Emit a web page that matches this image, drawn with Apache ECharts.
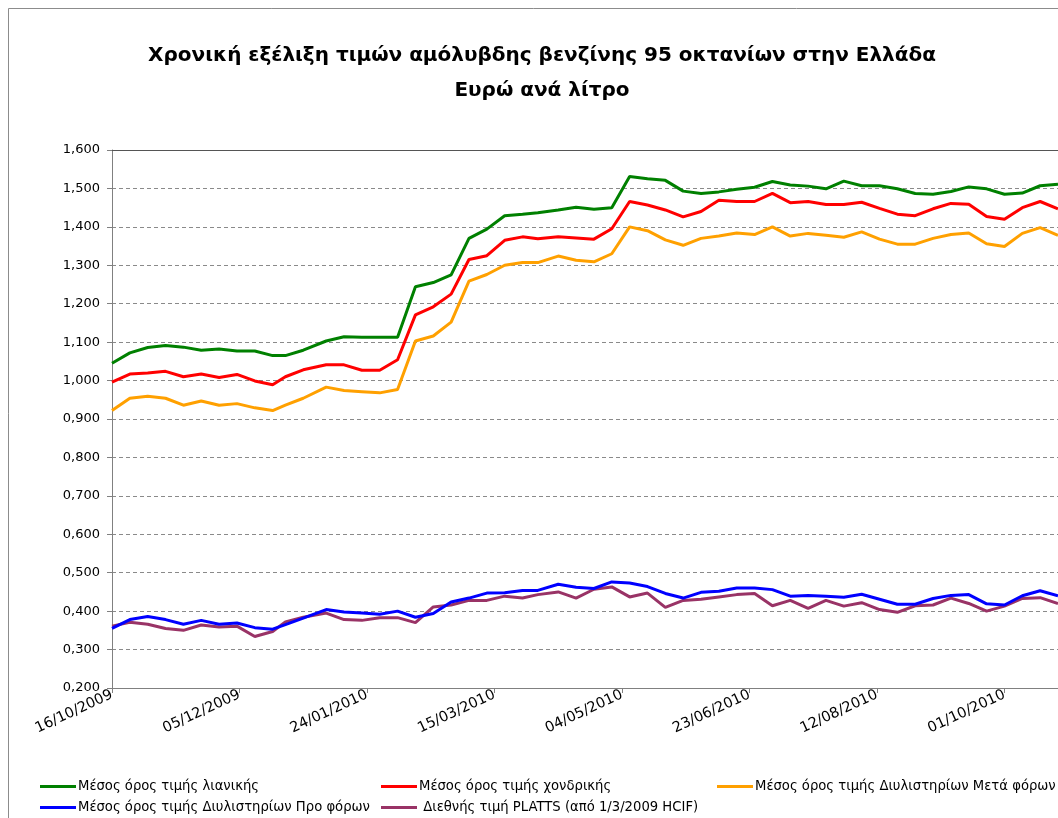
<!DOCTYPE html>
<html>
<head>
<meta charset="utf-8">
<script src="https://cdn.jsdelivr.net/npm/echarts@6/dist/echarts.min.js"></script>
<style>
html,body{margin:0;padding:0;background:#fff;}
#c{width:1058px;height:818px;}
</style>
</head>
<body>
<div id="c"></div>
<script>
const dates = [
'16/10/2009','23/10/2009','30/10/2009','06/11/2009','13/11/2009','20/11/2009','27/11/2009',
'04/12/2009','11/12/2009','18/12/2009','23/12/2009','30/12/2009','08/01/2010','15/01/2010',
'22/01/2010','29/01/2010','05/02/2010','12/02/2010','19/02/2010','26/02/2010','05/03/2010',
'12/03/2010','19/03/2010','26/03/2010','01/04/2010','09/04/2010','16/04/2010','23/04/2010',
'30/04/2010','07/05/2010','14/05/2010','21/05/2010','28/05/2010','04/06/2010','11/06/2010',
'18/06/2010','25/06/2010','02/07/2010','09/07/2010','16/07/2010','23/07/2010','30/07/2010',
'06/08/2010','13/08/2010','20/08/2010','27/08/2010','03/09/2010','10/09/2010','17/09/2010',
'24/09/2010','01/10/2010','08/10/2010','15/10/2010','22/10/2010'
];
const retail = [
1.045,1.072,1.086,1.091,1.087,1.079,1.082,1.077,1.077,1.065,1.065,1.079,1.103,1.114,
1.113,1.113,1.113,1.244,1.255,1.275,1.370,1.394,1.429,1.433,1.437,1.444,1.451,1.446,
1.450,1.531,1.525,1.521,1.493,1.487,1.491,1.498,1.503,1.518,1.509,1.506,1.499,1.519,
1.507,1.507,1.499,1.487,1.485,1.492,1.504,1.499,1.485,1.488,1.507,1.511
];
const wholesale = [
0.996,1.017,1.020,1.024,1.010,1.017,1.008,1.016,0.999,0.989,1.010,1.028,1.041,1.041,
1.027,1.027,1.054,1.171,1.192,1.225,1.315,1.325,1.365,1.374,1.369,1.374,1.371,1.368,
1.395,1.466,1.457,1.444,1.426,1.440,1.469,1.466,1.466,1.487,1.463,1.466,1.458,1.458,
1.464,1.448,1.433,1.429,1.447,1.461,1.459,1.427,1.420,1.450,1.466,1.447
];
const refineryAfterTax = [
0.922,0.954,0.959,0.954,0.936,0.947,0.936,0.940,0.929,0.922,0.936,0.954,0.983,0.974,
0.971,0.968,0.977,1.103,1.116,1.152,1.259,1.276,1.300,1.307,1.307,1.324,1.313,1.309,
1.330,1.400,1.390,1.366,1.352,1.370,1.376,1.384,1.380,1.400,1.376,1.383,1.378,1.373,
1.387,1.368,1.355,1.355,1.370,1.380,1.384,1.356,1.349,1.383,1.398,1.378
];
const refineryPreTax = [
0.355,0.378,0.386,0.378,0.366,0.376,0.366,0.369,0.357,0.353,0.365,0.382,0.404,0.398,
0.395,0.392,0.400,0.384,0.394,0.424,0.434,0.447,0.448,0.454,0.454,0.470,0.462,0.459,
0.476,0.473,0.464,0.446,0.434,0.449,0.452,0.460,0.460,0.456,0.439,0.441,0.439,0.436,
0.444,0.431,0.418,0.418,0.433,0.441,0.443,0.419,0.416,0.440,0.453,0.440
];
const platts = [
0.361,0.371,0.366,0.355,0.350,0.364,0.359,0.361,0.334,0.347,0.372,0.384,0.395,0.378,
0.376,0.383,0.383,0.370,0.411,0.416,0.428,0.428,0.439,0.434,0.443,0.450,0.434,0.457,
0.463,0.437,0.447,0.410,0.428,0.431,0.437,0.443,0.446,0.414,0.428,0.407,0.428,0.413,
0.422,0.404,0.397,0.414,0.416,0.434,0.420,0.400,0.413,0.433,0.435,0.420
];
const seriesNames = [
'Μέσος όρος τιμής λιανικής',
'Μέσος όρος τιμής χονδρικής',
'Μέσος όρος τιμής Διυλιστηρίων Μετά φόρων',
'Μέσος όρος τιμής Διυλιστηρίων Προ φόρων',
' Διεθνής τιμή PLATTS (από 1/3/2009 HCIF)'
];
const xTickLabels = ['16/10/2009','05/12/2009','24/01/2010','15/03/2010','04/05/2010','23/06/2010','12/08/2010','01/10/2010'];
const yTickLabels = ['0,200','0,300','0,400','0,500','0,600','0,700','0,800','0,900','1,000','1,100','1,200','1,300','1,400','1,500','1,600'];

function parseDay(s){
  const p = s.split('/');
  return Date.UTC(+p[2], +p[1]-1, +p[0]);
}
const t0 = parseDay(dates[0]);
const dayOf = s => Math.round((parseDay(s) - t0)/86400000);
const xs = dates.map(dayOf);
const pairs = arr => arr.map((v,i)=>[xs[i], v]);
const xMax = xs[xs.length-1];

const colors = ['#008000','#FF0000','#FFA000','#0000FF','#993366'];
const allValues = [retail, wholesale, refineryAfterTax, refineryPreTax, platts];

const chart = echarts.init(document.getElementById('c'), null, {renderer:'canvas'});
const legendPos = [
  {left:40, top:780},{left:381, top:780},{left:717, top:780},
  {left:40, top:801},{left:381, top:801}
];
const font = 'DejaVu Sans, Verdana, sans-serif';
chart.setOption({
  animation:false,
  backgroundColor:'#ffffff',
  graphic:[{type:'rect', shape:{x:8.5,y:8.5,width:1200,height:1000}, style:{fill:'none', stroke:'#8c8c8c', lineWidth:1}, silent:true}],
  title:{
    text:'Χρονική εξέλιξη τιμών αμόλυβδης βενζίνης 95 οκτανίων στην Ελλάδα\nΕυρώ ανά λίτρο',
    left:537, top:33, textAlign:'center',
    textStyle:{fontFamily:font, fontWeight:'bold', fontSize:20, lineHeight:35, color:'#000'}
  },
  legend: seriesNames.map((n,i)=>({
    data:[n], left:legendPos[i].left, top:legendPos[i].top, padding:0,
    icon:'rect', itemWidth:36, itemHeight:3, itemGap:0,
    textStyle:{fontFamily:font, fontSize:13.2, color:'#000', padding:[0,0,0,-3]},
    selectedMode:false
  })),
  grid:{left:112, top:150, width: xMax*2.564, height:538, containLabel:false},
  xAxis:[{
    type:'value', min:0, max:xMax, interval:50,
    axisLine:{show:true, lineStyle:{color:'#808080', width:1}},
    axisTick:{show:true, length:5, lineStyle:{color:'#808080'}},
    splitLine:{show:false},
    axisLabel:{
      rotate:25, margin:6, fontFamily:font, fontSize:14.5, color:'#000',
      showMaxLabel:false,
      formatter:function(v){
        const k = Math.round(v/50);
        if (Math.abs(v - k*50) < 0.01 && k < xTickLabels.length) return xTickLabels[k];
        return '';
      }
    }
  },{
    type:'value', position:'top', min:0, max:xMax,
    axisLine:{show:true, onZero:false, lineStyle:{color:'#555', width:1}},
    axisTick:{show:false}, axisLabel:{show:false}, splitLine:{show:false}
  }],
  yAxis:{
    type:'value', min:0.2, max:1.6, interval:0.1,
    axisLine:{show:true, lineStyle:{color:'#808080', width:1}},
    axisTick:{show:true, length:5, lineStyle:{color:'#808080'}},
    splitLine:{show:true, lineStyle:{color:'#8a8a8a', type:[4,3], width:1}},
    axisLabel:{
      margin:12, fontFamily:font, fontSize:13, color:'#000',
      formatter:function(v){
        const k = Math.round((v-0.2)/0.1);
        return yTickLabels[k] !== undefined ? yTickLabels[k] : v.toFixed(3).replace('.', ',');
      }
    }
  },
  series: seriesNames.map((n,i)=>({
    name:n, type:'line', xAxisIndex:0, data:pairs(allValues[i]),
    showSymbol:false, symbol:'none', smooth:false,
    lineStyle:{color:colors[i], width:3}, itemStyle:{color:colors[i]},
    z: 10 - i
  }))
});
</script>
</body>
</html>
